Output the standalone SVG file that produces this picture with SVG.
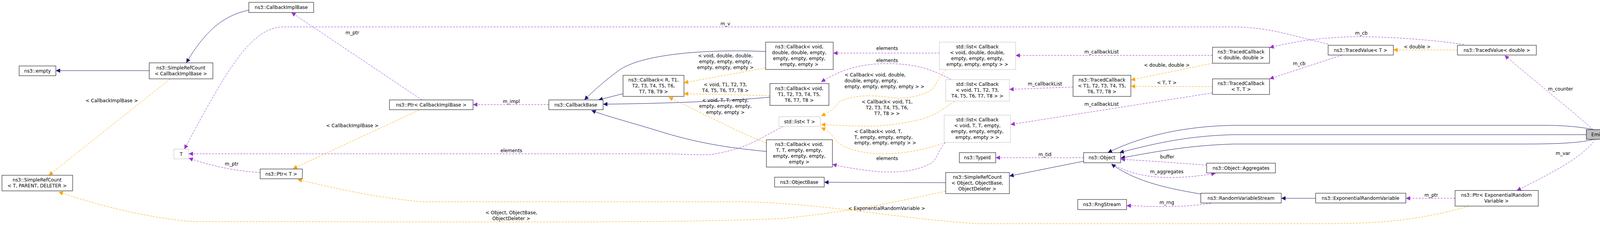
<svg xmlns="http://www.w3.org/2000/svg" width="4136" height="579" viewBox="0 0 4136 579">
<style>
text{font-family:"DejaVu Sans",sans-serif;font-size:12px;fill:#000}
.n text,.g text{text-anchor:middle}
.n rect{fill:#fff;stroke:#000;stroke-width:1}
.g rect{fill:#fff;stroke:#bfbfbf;stroke-width:1}
.e rect{fill:#bfbfbf;stroke:#000}
.b{fill:none;stroke:#191970;stroke-width:1}
.o{fill:none;stroke:#ffa500;stroke-width:1;stroke-dasharray:5,3}
.p{fill:none;stroke:#9a32cd;stroke-width:1;stroke-dasharray:5,3}
.l{text-anchor:middle}
</style>
<defs>
<marker id="mb" viewBox="0 0 10 10" refX="10" refY="5" markerWidth="11" markerHeight="11" markerUnits="userSpaceOnUse" orient="auto"><path d="M0,0L10,5L0,10z" fill="#191970"/></marker>
<marker id="mo" viewBox="0 0 10 10" refX="10" refY="5" markerWidth="11" markerHeight="11" markerUnits="userSpaceOnUse" orient="auto"><path d="M0,0L10,5L0,10z" fill="#ffa500"/></marker>
<marker id="mp" viewBox="0 0 10 10" refX="10" refY="5" markerWidth="11" markerHeight="11" markerUnits="userSpaceOnUse" orient="auto"><path d="M0,0L10,5L0,10z" fill="#9a32cd"/></marker>
</defs>
<rect width="4136" height="579" fill="#fff"/>
<g id="edges">
<path class="b" marker-end="url(#mb)" d="M637,26C580,38 530,70 477,161"/>
<path class="b" marker-end="url(#mb)" d="M382,181L143,181"/>
<path class="b" marker-end="url(#mb)" d="M1960,132C1800,125 1640,140 1585,180C1550,205 1520,232 1496,256"/>
<path class="b" marker-end="url(#mb)" d="M1595,240L1532,256"/>
<path class="b" marker-end="url(#mb)" d="M1971,249C1850,260 1700,265 1544,267"/>
<path class="b" marker-end="url(#mb)" d="M1962,388C1880,380 1800,370 1700,340C1620,315 1560,300 1514,283"/>
<path class="b" marker-end="url(#mb)" d="M2421,468L2110,467"/>
<path class="b" marker-end="url(#mb)" d="M2774,413L2584,451"/>
<path class="b" marker-end="url(#mb)" d="M4080,332C4050,326 4010,321 3950,321L3160,321C3000,324 2900,360 2836,391"/>
<path class="b" marker-end="url(#mb)" d="M4061,345L3160,345C3030,348 2940,372 2866,391"/>
<path class="b" marker-end="url(#mb)" d="M4080,357C4050,365 4000,369 3900,369L3160,369C3040,372 2940,392 2869,405"/>
<path class="b" marker-end="url(#mb)" d="M3074,497C2970,480 2900,460 2845,420"/>
<path class="b" marker-end="url(#mb)" d="M3368,508L3280,508"/>
<path class="o" marker-end="url(#mo)" d="M436,202L125,449"/>
<path class="o" marker-end="url(#mo)" d="M2421,490C2300,515 2200,540 2000,560C1700,572 1400,568 500,568C380,560 250,525 150,492"/>
<path class="o" marker-end="url(#mo)" d="M1073,282L750,432"/>
<path class="o" marker-end="url(#mo)" d="M3760,528C3650,560 3550,573 3400,573L2500,573C2300,560 2100,520 1900,517L1080,517C950,505 850,480 762,460"/>
<path class="o" marker-end="url(#mo)" d="M1960,174L1751,212"/>
<path class="o" marker-end="url(#mo)" d="M1971,245L1751,240"/>
<path class="o" marker-end="url(#mo)" d="M1962,366C1880,335 1820,300 1712,249"/>
<path class="o" marker-end="url(#mo)" d="M2422,178C2395,205 2395,225 2385,230C2360,245 2320,255 2280,250C2220,240 2170,248 2150,260C2135,275 2130,285 2102,297"/>
<path class="o" marker-end="url(#mo)" d="M2444,260C2420,275 2400,290 2385,296C2340,315 2260,325 2200,323C2160,322 2130,320 2102,319"/>
<path class="o" marker-end="url(#mo)" d="M2420,365C2380,380 2330,392 2270,394C2200,394 2160,380 2140,360C2130,345 2120,335 2102,327"/>
<path class="o" marker-end="url(#mo)" d="M3104,162L2895,205"/>
<path class="o" marker-end="url(#mo)" d="M3104,222L2895,221"/>
<path class="o" marker-end="url(#mo)" d="M3731,128L3567,128"/>
<path class="p" marker-end="url(#mp)" d="M1080,256L746,32"/>
<path class="p" marker-end="url(#mp)" d="M1405,268L1211,268"/>
<path class="p" marker-end="url(#mp)" d="M3400,113C3300,90 3250,69 3150,69L720,69C640,75 580,180 472,382"/>
<path class="p" marker-end="url(#mp)" d="M2005,324C1950,350 1920,380 1820,396C1780,398 1740,394 1700,394L483,394"/>
<path class="p" marker-end="url(#mp)" d="M666,442C600,438 540,425 483,405"/>
<path class="p" marker-end="url(#mp)" d="M2405,136L2133,136"/>
<path class="p" marker-end="url(#mp)" d="M2435,204C2390,180 2350,163 2270,163C2200,163 2150,180 2102,210"/>
<path class="p" marker-end="url(#mp)" d="M2420,365C2395,395 2400,410 2380,420C2340,440 2300,442 2250,440C2200,435 2160,428 2131,421"/>
<path class="p" marker-end="url(#mp)" d="M3104,142L2600,142"/>
<path class="p" marker-end="url(#mp)" d="M2747,223L2584,229"/>
<path class="p" marker-end="url(#mp)" d="M3104,238L2587,319"/>
<path class="p" marker-end="url(#mp)" d="M3748,114C3650,100 3550,94 3470,94C3380,96 3320,105 3250,122"/>
<path class="p" marker-end="url(#mp)" d="M3436,141L3250,202"/>
<path class="p" marker-end="url(#mp)" d="M2774,404L2549,404"/>
<path class="p" marker-end="url(#mp)" d="M3089,423C3020,418 2940,412 2869,408"/>
<path class="p" marker-end="url(#mp)" d="M2848,420C2890,445 2940,455 3000,455C3040,454 3080,450 3112,444"/>
<path class="p" marker-end="url(#mp)" d="M3100,521C3050,528 3000,530 2960,529C2930,529 2910,527 2884,527"/>
<path class="p" marker-end="url(#mp)" d="M3725,508L3599,508"/>
<path class="p" marker-end="url(#mp)" d="M4078,332C4020,280 3920,200 3852,142"/>
<path class="p" marker-end="url(#mp)" d="M4085,357C4050,400 4000,430 3883,488"/>
<text x="286" y="262" class="l">&lt; CallbackImplBase &gt;</text>
<text x="593" y="424" class="l">m_ptr</text>
<text x="902" y="88" class="l">m_ptr</text>
<text x="1309" y="264" class="l">m_impl</text>
<text x="902" y="326" class="l">&lt; CallbackImplBase &gt;</text>
<text x="1309" y="390" class="l">elements</text>
<text x="1309" y="549" class="l">&lt; Object, ObjectBase,</text>
<text x="1309" y="564" class="l">ObjectDeleter &gt;</text>
<text x="1857" y="65" class="l">m_v</text>
<text x="1857" y="147" class="l">&lt; void, double, double,</text>
<text x="1857" y="162" class="l">empty, empty, empty,</text>
<text x="1857" y="177" class="l">empty, empty, empty &gt;</text>
<text x="1857" y="221" class="l">&lt; void, T1, T2, T3,</text>
<text x="1857" y="236" class="l">T4, T5, T6, T7, T8 &gt;</text>
<text x="1857" y="261" class="l">&lt; void, T, T, empty,</text>
<text x="1857" y="276" class="l">empty, empty, empty,</text>
<text x="1857" y="292" class="l">empty, empty &gt;</text>
<text x="2271" y="128" class="l">elements</text>
<text x="2271" y="159" class="l">elements</text>
<text x="2271" y="410" class="l">elements</text>
<text x="2162" y="196">&lt; Callback&lt; void, double,</text>
<text x="2162" y="211">double, empty, empty,</text>
<text x="2162" y="226">empty, empty, empty, empty &gt; &gt;</text>
<text x="2271" y="265" class="l">&lt; Callback&lt; void, T1,</text>
<text x="2271" y="280" class="l">T2, T3, T4, T5, T6,</text>
<text x="2271" y="295" class="l">T7, T8 &gt; &gt;</text>
<text x="2187" y="341">&lt; Callback&lt; void, T,</text>
<text x="2187" y="356">T, empty, empty, empty,</text>
<text x="2187" y="370">empty, empty, empty &gt; &gt;</text>
<text x="2270" y="538" class="l">&lt; ExponentialRandomVariable &gt;</text>
<text x="2675" y="219" class="l">m_callbackList</text>
<text x="2820" y="137" class="l">m_callbackList</text>
<text x="2820" y="271" class="l">m_callbackList</text>
<text x="2675" y="400" class="l">m_tid</text>
<text x="2987" y="171" class="l">&lt; double, double &gt;</text>
<text x="2987" y="216" class="l">&lt; T, T &gt;</text>
<text x="3326" y="167" class="l">m_cb</text>
<text x="3485" y="89" class="l">m_cb</text>
<text x="2988" y="406" class="l">buffer</text>
<text x="2987" y="444" class="l">m_aggregates</text>
<text x="2987" y="523" class="l">m_rng</text>
<text x="3628" y="124" class="l">&lt; double &gt;</text>
<text x="3995" y="232" class="l">m_counter</text>
<text x="4001" y="397" class="l">m_var</text>
<text x="3664" y="504" class="l">m_ptr</text>
</g>
<g id="n_cib" class="n"><rect x="637" y="6" width="166" height="26"/><text x="720" y="23">ns3::CallbackImplBase</text></g>
<g id="n_src_cib" class="n"><rect x="382" y="161" width="163" height="41"/><text x="463" y="178">ns3::SimpleRefCount</text><text x="463" y="193">&lt; CallbackImplBase &gt;</text></g>
<g id="n_empty" class="n"><rect x="49" y="169" width="94" height="25"/><text x="96" y="186">ns3::empty</text></g>
<g id="n_T" class="g"><rect x="445" y="382" width="38" height="25"/><text x="464" y="399">T</text></g>
<g id="n_src_tpd" class="n"><rect x="5" y="449" width="181" height="40"/><text x="95" y="465">ns3::SimpleRefCount</text><text x="95" y="480">&lt; T, PARENT, DELETER &gt;</text></g>
<g id="n_ptrT" class="n"><rect x="666" y="433" width="108" height="25"/><text x="720" y="450">ns3::Ptr&lt; T &gt;</text></g>
<g id="n_ptr_cib" class="n"><rect x="997" y="256" width="214" height="25"/><text x="1104" y="273">ns3::Ptr&lt; CallbackImplBase &gt;</text></g>
<g id="n_cbb" class="n"><rect x="1405" y="256" width="139" height="25"/><text x="1474" y="273">ns3::CallbackBase</text></g>
<g id="n_cbR" class="n"><rect x="1595" y="193" width="156" height="54"/><text x="1673" y="209">ns3::Callback&lt; R, T1,</text><text x="1673" y="224">T2, T3, T4, T5, T6,</text><text x="1673" y="239">T7, T8, T9 &gt;</text></g>
<g id="n_cbdd" class="n"><rect x="1960" y="108" width="173" height="70"/><text x="2046" y="124">ns3::Callback&lt; void,</text><text x="2046" y="139">double, double, empty,</text><text x="2046" y="154">empty, empty, empty,</text><text x="2046" y="169">empty, empty &gt;</text></g>
<g id="n_cbT1" class="n"><rect x="1971" y="214" width="151" height="56"/><text x="2046" y="231">ns3::Callback&lt; void,</text><text x="2046" y="246">T1, T2, T3, T4, T5,</text><text x="2046" y="261">T6, T7, T8 &gt;</text></g>
<g id="n_listT" class="g"><rect x="1994" y="299" width="106" height="25"/><text x="2047" y="316">std::list&lt; T &gt;</text></g>
<g id="n_cbTT" class="n"><rect x="1962" y="358" width="169" height="70"/><text x="2046" y="374">ns3::Callback&lt; void,</text><text x="2046" y="389">T, T, empty, empty,</text><text x="2046" y="404">empty, empty, empty,</text><text x="2046" y="419">empty &gt;</text></g>
<g id="n_ob" class="n"><rect x="1983" y="454" width="127" height="25"/><text x="2046" y="471">ns3::ObjectBase</text></g>
<g id="n_ldd" class="g"><rect x="2405" y="108" width="195" height="70"/><text x="2502" y="124">std::list&lt; Callback</text><text x="2502" y="139">&lt; void, double, double,</text><text x="2502" y="154">empty, empty, empty,</text><text x="2502" y="169">empty, empty, empty &gt; &gt;</text></g>
<g id="n_lT1" class="g"><rect x="2421" y="204" width="163" height="55"/><text x="2502" y="220">std::list&lt; Callback</text><text x="2502" y="235">&lt; void, T1, T2, T3,</text><text x="2502" y="250">T4, T5, T6, T7, T8 &gt; &gt;</text></g>
<g id="n_lTT" class="g"><rect x="2417" y="295" width="170" height="70"/><text x="2502" y="311">std::list&lt; Callback</text><text x="2502" y="326">&lt; void, T, T, empty,</text><text x="2502" y="341">empty, empty, empty,</text><text x="2502" y="356">empty, empty &gt; &gt;</text></g>
<g id="n_tid" class="n"><rect x="2456" y="391" width="93" height="26"/><text x="2502" y="408">ns3::TypeId</text></g>
<g id="n_src_obj" class="n"><rect x="2421" y="442" width="163" height="54"/><text x="2502" y="458">ns3::SimpleRefCount</text><text x="2502" y="473">&lt; Object, ObjectBase,</text><text x="2502" y="488">ObjectDeleter &gt;</text></g>
<g id="n_tcT1" class="n"><rect x="2747" y="193" width="148" height="54"/><text x="2821" y="209">ns3::TracedCallback</text><text x="2821" y="224">&lt; T1, T2, T3, T4, T5,</text><text x="2821" y="239">T6, T7, T8 &gt;</text></g>
<g id="n_obj" class="n"><rect x="2774" y="391" width="95" height="26"/><text x="2821" y="408">ns3::Object</text></g>
<g id="n_rng" class="n"><rect x="2759" y="511" width="125" height="26"/><text x="2821" y="528">ns3::RngStream</text></g>
<g id="n_tcdd" class="n"><rect x="3104" y="121" width="146" height="41"/><text x="3177" y="137">ns3::TracedCallback</text><text x="3177" y="152">&lt; double, double &gt;</text></g>
<g id="n_tcTT" class="n"><rect x="3104" y="202" width="146" height="40"/><text x="3177" y="218">ns3::TracedCallback</text><text x="3177" y="233">&lt; T, T &gt;</text></g>
<g id="n_agg" class="n"><rect x="3089" y="418" width="176" height="25"/><text x="3177" y="435">ns3::Object::Aggregates</text></g>
<g id="n_rvs" class="n"><rect x="3074" y="495" width="206" height="25"/><text x="3177" y="512">ns3::RandomVariableStream</text></g>
<g id="n_tvT" class="n"><rect x="3400" y="116" width="167" height="25"/><text x="3483" y="133">ns3::TracedValue&lt; T &gt;</text></g>
<g id="n_erv" class="n"><rect x="3368" y="495" width="231" height="25"/><text x="3483" y="512">ns3::ExponentialRandomVariable</text></g>
<g id="n_tvd" class="n"><rect x="3731" y="116" width="202" height="25"/><text x="3832" y="133">ns3::TracedValue&lt; double &gt;</text></g>
<g id="n_perv" class="n"><rect x="3725" y="488" width="213" height="40"/><text x="3831" y="504">ns3::Ptr&lt; ExponentialRandom</text><text x="3831" y="519">Variable &gt;</text></g>
<g id="n_emitter" class="n e"><rect x="4061" y="332" width="70" height="25"/><text x="4096" y="349">Emitter</text></g>
</svg>
